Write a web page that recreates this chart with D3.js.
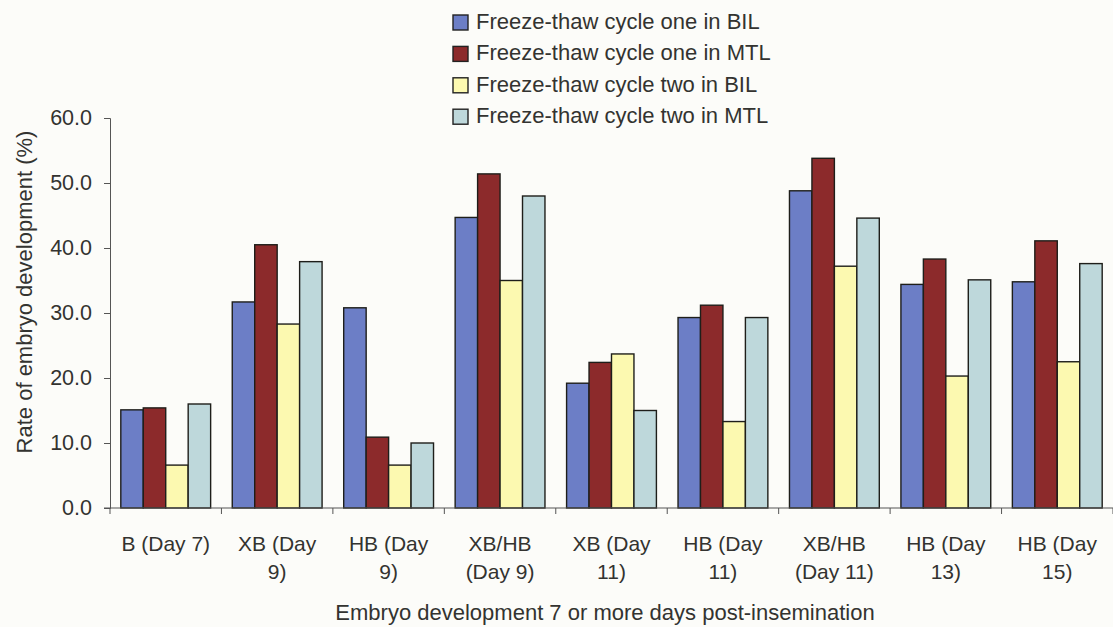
<!DOCTYPE html>
<html><head><meta charset="utf-8">
<script src="https://cdn.jsdelivr.net/npm/d3@7"></script>
<style>html,body{margin:0;padding:0;background:#fcfcf9;}svg{display:block;}</style>
</head><body>
<svg id="chart" width="1113" height="627"></svg>
<script>
const categories = ["B (Day 7)", "XB (Day|9)", "HB (Day|9)", "XB/HB|(Day 9)", "XB (Day|11)", "HB (Day|11)", "XB/HB|(Day 11)", "HB (Day|13)", "HB (Day|15)"];
const seriesNames = ["Freeze-thaw cycle one in BIL", "Freeze-thaw cycle one in MTL", "Freeze-thaw cycle two in BIL", "Freeze-thaw cycle two in MTL"];
const cycleOneBIL = [15.1, 31.7, 30.8, 44.7, 19.2, 29.3, 48.8, 34.4, 34.8];
const cycleOneMTL = [15.4, 40.5, 10.9, 51.4, 22.4, 31.2, 53.8, 38.3, 41.1];
const cycleTwoBIL = [6.6, 28.3, 6.6, 35.0, 23.7, 13.3, 37.2, 20.3, 22.5];
const cycleTwoMTL = [16.0, 37.9, 10.0, 48.0, 15.0, 29.3, 44.6, 35.1, 37.6];
const yTicks = [0, 10, 20, 30, 40, 50, 60];
const colors = ["#6c7ec6", "#8c2a2b", "#fcf9b0", "#bed8db"];

(function () {
const series = [cycleOneBIL, cycleOneMTL, cycleTwoBIL, cycleTwoMTL];
const svg = d3.select("#chart");
const font = "Arial, 'Liberation Sans', sans-serif";
const textColor = "#333330";
const pLeft = 110, pRight = 1113, pTop = 118, pBottom = 508;

const x = d3.scaleBand().domain(categories).range([pLeft, pRight]).paddingInner(0.194).paddingOuter(0.097);
const xs = d3.scaleBand().domain(d3.range(series.length)).range([0, x.bandwidth()]);
const y = d3.scaleLinear().domain([0, 60]).range([pBottom, pTop]);

// bars
categories.forEach((c, i) => {
  const g = svg.append("g").attr("transform", `translate(${x(c)},0)`);
  g.selectAll("rect").data(series.map((s, k) => ({k, v: s[i]}))).join("rect")
    .attr("x", d => xs(d.k)).attr("width", xs.bandwidth())
    .attr("y", d => y(d.v)).attr("height", d => y(0) - y(d.v))
    .attr("fill", d => colors[d.k]).attr("stroke", "#1e1e1a").attr("stroke-width", 1.4);
});

// y axis
const yAxis = svg.append("g").attr("transform", `translate(${pLeft},0)`)
  .call(d3.axisLeft(y).tickValues(yTicks).tickFormat(d3.format(".1f")).tickSize(6).tickPadding(12));
yAxis.select(".domain").attr("stroke", "#555");
yAxis.selectAll(".tick line").attr("stroke", "#555");
yAxis.selectAll("text").attr("font-family", font).attr("font-size", 21.5).attr("fill", textColor);

// x axis
const boundaries = categories.map(c => x(c) - x.step() * x.paddingInner() / 2).concat([pRight]);
svg.append("line").attr("x1", pLeft - 6).attr("x2", pRight).attr("y1", pBottom).attr("y2", pBottom).attr("stroke", "#555");
svg.selectAll(".xt").data(boundaries).join("line").attr("class", "xt")
  .attr("x1", d => d).attr("x2", d => d).attr("y1", pBottom).attr("y2", pBottom + 6).attr("stroke", "#555");

svg.selectAll(".xl").data(categories).join("text").attr("class", "xl")
  .attr("x", d => x(d) + x.bandwidth() / 2).attr("y", 551)
  .attr("text-anchor", "middle").attr("font-family", font).attr("font-size", 21).attr("fill", textColor)
  .each(function(d) {
    const lines = d.split("|");
    d3.select(this).selectAll("tspan").data(lines).join("tspan")
      .attr("x", x(d) + x.bandwidth() / 2).attr("dy", (l, j) => j === 0 ? 0 : 28).text(l => l);
  });

// axis titles
svg.append("text").attr("x", 605).attr("y", 620).attr("text-anchor", "middle")
  .attr("font-family", font).attr("font-size", 22).attr("fill", textColor)
  .text("Embryo development 7 or more days post-insemination");
svg.append("text").attr("transform", `translate(32,292) rotate(-90)`).attr("text-anchor", "middle")
  .attr("font-family", font).attr("font-size", 22).attr("fill", textColor)
  .text("Rate of embryo development (%)");

// legend
const lg = svg.append("g").attr("transform", "translate(453,15)");
seriesNames.forEach((n, i) => {
  const row = lg.append("g").attr("transform", `translate(0,${i * 31.4})`);
  row.append("rect").attr("x", 0).attr("y", 0).attr("width", 15).attr("height", 15)
    .attr("fill", colors[i]).attr("stroke", "#222").attr("stroke-width", 1.4);
  row.append("text").attr("x", 23).attr("y", 14).attr("font-family", font).attr("font-size", 22)
    .attr("fill", textColor).text(n);
});
})();
</script>
</body></html>
